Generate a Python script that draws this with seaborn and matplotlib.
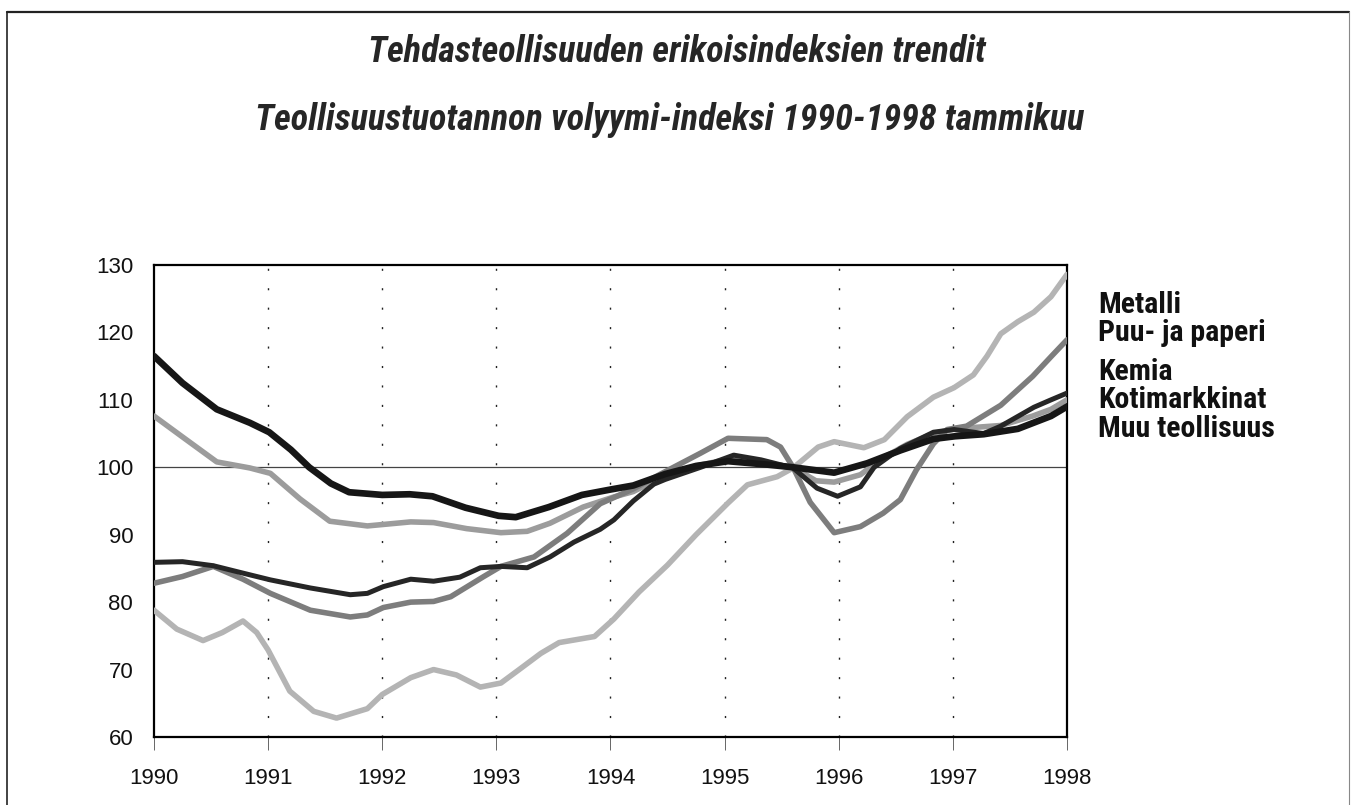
import matplotlib
matplotlib.use('Agg')
import matplotlib.pyplot as plt
import matplotlib.transforms as mtransforms
from matplotlib import font_manager
from matplotlib.lines import Line2D
import pandas as pd
import seaborn as sns

sns.set_theme(style='white')
installed = {f.name for f in font_manager.fontManager.ttflist}
narrow = 'Liberation Sans'
for cand in ['Liberation Sans Narrow', 'DejaVu Sans Condensed', 'Roboto Condensed', 'Open Sans Condensed']:
    if cand in installed:
        narrow = cand
        break
plt.rcParams['font.family'] = ['Liberation Sans', 'DejaVu Sans']

# trend values (index, base period = 100)
metalli_x = [1990.0, 1990.2, 1990.43, 1990.6, 1990.78, 1990.9, 1991.0, 1991.19, 1991.4, 1991.6,
             1991.87, 1992.0, 1992.25, 1992.45, 1992.65, 1992.86, 1993.04, 1993.2, 1993.39, 1993.55,
             1993.86, 1994.03, 1994.25, 1994.5, 1994.75, 1995.03, 1995.2, 1995.46, 1995.6, 1995.82,
             1995.96, 1996.22, 1996.4, 1996.6, 1996.83, 1997.01, 1997.18, 1997.3, 1997.42, 1997.57,
             1997.71, 1997.86, 1998.0]
metalli_y = [78.8, 76.0, 74.3, 75.5, 77.2, 75.5, 72.9, 66.8, 63.8, 62.8,
             64.2, 66.3, 68.8, 70.0, 69.2, 67.4, 68.0, 70.0, 72.4, 74.0,
             74.9, 77.5, 81.5, 85.5, 90.0, 94.7, 97.4, 98.6, 99.9, 103.0,
             103.8, 102.9, 104.1, 107.5, 110.4, 111.8, 113.7, 116.5, 119.8, 121.6,
             123.0, 125.3, 128.6]

puu_x = [1990.0, 1990.25, 1990.52, 1990.78, 1991.02, 1991.37, 1991.72, 1991.87, 1992.01, 1992.25,
         1992.45, 1992.6, 1992.89, 1993.04, 1993.33, 1993.62, 1993.91, 1994.2, 1994.44, 1994.79,
         1995.03, 1995.37, 1995.49, 1995.6, 1995.75, 1995.96, 1996.19, 1996.39, 1996.54, 1996.68,
         1996.83, 1996.95, 1997.12, 1997.42, 1997.7, 1997.86, 1998.0]
puu_y = [82.8, 83.8, 85.3, 83.4, 81.3, 78.8, 77.8, 78.1, 79.2, 80.0,
         80.1, 80.8, 83.8, 85.3, 86.7, 90.2, 94.6, 96.8, 99.0, 102.1,
         104.3, 104.1, 103.0, 100.0, 94.8, 90.3, 91.2, 93.2, 95.2, 99.6,
         103.5, 105.6, 106.1, 109.2, 113.5, 116.4, 118.9]

kemia_x = [1990.0, 1990.25, 1990.52, 1990.78, 1991.02, 1991.37, 1991.72, 1991.87, 1992.01, 1992.25,
           1992.45, 1992.68, 1992.86, 1993.04, 1993.27, 1993.47, 1993.68, 1993.91, 1994.03, 1994.2,
           1994.38, 1994.48, 1994.79, 1995.08, 1995.32, 1995.6, 1995.81, 1995.99, 1996.19, 1996.31,
           1996.54, 1996.83, 1997.01, 1997.27, 1997.42, 1997.71, 1997.86, 1998.0]
kemia_y = [85.9, 86.0, 85.4, 84.3, 83.3, 82.1, 81.1, 81.3, 82.3, 83.4,
           83.1, 83.7, 85.1, 85.3, 85.1, 86.7, 88.9, 90.8, 92.2, 95.0,
           97.5, 98.2, 100.0, 101.8, 101.1, 99.9, 96.9, 95.7, 97.1, 100.0,
           102.8, 105.2, 105.6, 105.0, 106.1, 108.9, 110.0, 111.0]

koti_x = [1990.0, 1990.25, 1990.55, 1990.84, 1991.02, 1991.28, 1991.54, 1991.87, 1992.25, 1992.45,
          1992.74, 1993.04, 1993.27, 1993.47, 1993.76, 1994.03, 1994.2, 1994.48, 1994.75, 1995.03,
          1995.3, 1995.6, 1995.8, 1995.96, 1996.19, 1996.39, 1996.6, 1996.83, 1997.02, 1997.42,
          1997.7, 1997.86, 1998.0]
koti_y = [107.6, 104.5, 100.8, 99.9, 99.1, 95.3, 92.0, 91.3, 91.9, 91.8,
          90.9, 90.3, 90.5, 91.7, 94.1, 95.6, 96.4, 98.8, 100.2, 101.2,
          100.8, 100.0, 98.0, 97.8, 98.9, 101.4, 103.4, 105.0, 105.7, 106.2,
          107.6, 108.6, 110.0]

muu_x = [1990.0, 1990.25, 1990.55, 1990.84, 1991.01, 1991.2, 1991.36, 1991.55, 1991.71, 1992.0,
         1992.24, 1992.44, 1992.73, 1993.02, 1993.17, 1993.46, 1993.75, 1994.0, 1994.2, 1994.48,
         1994.75, 1995.03, 1995.37, 1995.6, 1995.96, 1996.25, 1996.54, 1996.83, 1997.02, 1997.27,
         1997.57, 1997.86, 1998.0]
muu_y = [116.5, 112.5, 108.6, 106.6, 105.2, 102.6, 100.0, 97.6, 96.3, 95.9,
         96.0, 95.7, 94.0, 92.8, 92.6, 94.1, 95.9, 96.7, 97.3, 99.0,
         100.2, 100.9, 100.4, 100.0, 99.2, 100.6, 102.5, 104.2, 104.6, 104.9,
         105.7, 107.6, 109.0]

names = ['Metalli', 'Puu- ja paperi', 'Kemia', 'Kotimarkkinat', 'Muu teollisuus']
years = [1990, 1991, 1992, 1993, 1994, 1995, 1996, 1997, 1998]
yticks = [60, 70, 80, 90, 100, 110, 120, 130]

frames = []
for name, xs, ys in zip(names,
                        [metalli_x, puu_x, kemia_x, koti_x, muu_x],
                        [metalli_y, puu_y, kemia_y, koti_y, muu_y]):
    frames.append(pd.DataFrame({'vuosi': xs, 'indeksi': ys, 'sarja': name}))
df = pd.concat(frames, ignore_index=True)

colors = {'Metalli': '#b4b4b4', 'Puu- ja paperi': '#7d7d7d', 'Kemia': '#262626',
          'Kotimarkkinat': '#9c9c9c', 'Muu teollisuus': '#161616'}
widths = {'Metalli': 4.0, 'Puu- ja paperi': 4.0, 'Kemia': 3.6,
          'Kotimarkkinat': 4.0, 'Muu teollisuus': 4.8}
draw_order = ['Metalli', 'Kotimarkkinat', 'Puu- ja paperi', 'Kemia', 'Muu teollisuus']

fig = plt.figure(figsize=(13.53, 8.05), dpi=100)
ax = fig.add_axes([0.1138, 0.0845, 0.6748, 0.5863])

# reference lines first
for yr in years[1:-1]:
    ax.axvline(yr, color='#222222', lw=1.0, linestyle=(0, (1.5, 12.5)), zorder=1)
ax.axhline(100, color='#444444', lw=0.9, zorder=1)

for i, name in enumerate(draw_order):
    sub = df[df['sarja'] == name]
    sns.lineplot(data=sub, x='vuosi', y='indeksi', ax=ax, color=colors[name],
                 linewidth=widths[name], estimator=None, sort=False, zorder=3 + i)

ax.set_xlim(1990, 1998)
ax.set_ylim(60, 130)
ax.set_xticks(years)
ax.set_xticklabels([str(y) for y in years])
ax.set_yticks(yticks)
ax.set_yticklabels([str(v) for v in yticks])
ax.set_xlabel('')
ax.set_ylabel('')
ax.tick_params(axis='x', direction='out', length=9, width=0.7, color='#666666',
               pad=13, labelsize=16, labelcolor='#111111', bottom=True)
ax.tick_params(axis='y', length=0, pad=15, labelsize=16, labelcolor='#111111')
for sp in ax.spines.values():
    sp.set_color('black')
    sp.set_linewidth(1.6)
ax.grid(False)

# series names at the right
label_y = [124.1, 119.9, 114.1, 110.0, 105.7]
trans = mtransforms.blended_transform_factory(ax.transAxes, ax.transData)
for name, yv in zip(names, label_y):
    ax.text(1.034, yv, name, transform=trans, ha='left', va='center',
            fontsize=21.5, fontweight='bold', family=[narrow, 'DejaVu Sans'], color='#111111')

fig.text(0.5, 1 - 52 / 805, 'Tehdasteollisuuden erikoisindeksien trendit', ha='center', va='center',
         fontsize=26, fontweight='bold', fontstyle='italic', family=[narrow, 'DejaVu Sans'])
fig.text(0.495, 1 - 120 / 805, 'Teollisuustuotannon volyymi-indeksi 1990-1998 tammikuu',
         ha='center', va='center', fontsize=26, fontweight='bold', fontstyle='italic',
         family=[narrow, 'DejaVu Sans'])

# page frame
fx0, fy0, fx1 = 7 / 1353, 1 - 12 / 805, 1349 / 1353
fig.add_artist(Line2D([fx0, fx0], [0, fy0], transform=fig.transFigure, color='#222222', lw=1.2))
fig.add_artist(Line2D([fx0, fx1], [fy0, fy0], transform=fig.transFigure, color='#222222', lw=1.6))
fig.add_artist(Line2D([fx1, fx1], [0, fy0], transform=fig.transFigure, color='#888888', lw=0.8))

fig.savefig('out.png', dpi=100, facecolor='white')
